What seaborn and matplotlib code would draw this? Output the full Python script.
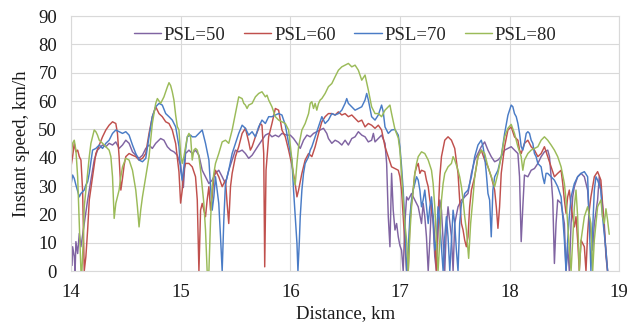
import matplotlib
matplotlib.use("Agg")
import matplotlib.pyplot as plt
import pandas as pd
import seaborn as sns

# (distance km, instant speed km/h)
psl50 = [(14.000, 7.4), (14.010, 2.0), (14.015, 8.6), (14.030, 5.1), (14.038, 0.0), (14.045, 10.4), (14.061, 6.2),
         (14.076, 13.3), (14.091, 8.6), (14.121, 16.8), (14.152, 25.1), (14.182, 32.1), (14.212, 39.2), (14.242, 42.7),
         (14.288, 44.5), (14.318, 43.9), (14.348, 45.1), (14.379, 44.5), (14.409, 45.6), (14.439, 43.3), (14.470, 44.5),
         (14.500, 46.2), (14.530, 45.1), (14.561, 42.1), (14.591, 40.9), (14.621, 39.8), (14.652, 40.9), (14.682, 43.3),
         (14.712, 44.5), (14.742, 43.3), (14.773, 45.1), (14.818, 46.8), (14.848, 46.2), (14.879, 43.9), (14.909, 42.7),
         (14.939, 42.1), (14.970, 40.9), (15.000, 37.4), (15.025, 29.5), (15.045, 41.5), (15.076, 42.7), (15.106, 41.5),
         (15.136, 42.7), (15.167, 40.9), (15.197, 35.6), (15.227, 33.3), (15.258, 30.9), (15.288, 32.1), (15.318, 34.5),
         (15.348, 35.6), (15.379, 33.3), (15.409, 30.9), (15.439, 35.6), (15.470, 39.2), (15.500, 42.7), (15.530, 42.1),
         (15.561, 42.7), (15.591, 41.5), (15.621, 39.8), (15.652, 40.9), (15.682, 42.7), (15.712, 44.5), (15.742, 46.2),
         (15.773, 48.0), (15.803, 48.6), (15.833, 47.4), (15.864, 48.0), (15.894, 47.4), (15.924, 48.6), (15.970, 48.0),
         (16.000, 48.0), (16.030, 46.8), (16.061, 45.1), (16.091, 43.3), (16.121, 46.2), (16.152, 48.0), (16.182, 47.4),
         (16.212, 48.6), (16.242, 49.2), (16.273, 49.8), (16.303, 50.4), (16.333, 48.6), (16.348, 46.8), (16.379, 45.1),
         (16.409, 46.2), (16.439, 45.6), (16.470, 44.5), (16.500, 46.2), (16.530, 44.5), (16.561, 46.8), (16.591, 47.4),
         (16.621, 49.2), (16.652, 48.0), (16.682, 47.4), (16.712, 45.6), (16.742, 46.2), (16.758, 48.6), (16.773, 45.6),
         (16.803, 46.8), (16.833, 48.0), (16.864, 45.1), (16.879, 38.0), (16.894, 19.2), (16.909, 8.6), (16.924, 34.5),
         (16.939, 21.5), (16.955, 14.5), (16.970, 16.8), (16.985, 12.1), (17.000, 9.0), (17.015, 7.4), (17.030, 0.0),
         (17.045, 16.8), (17.061, 26.2), (17.076, 25.1), (17.106, 27.4), (17.136, 25.1), (17.167, 22.7), (17.197, 16.8),
         (17.212, 23.9), (17.227, 19.2), (17.242, 12.1), (17.258, 0.0), (17.273, 10.9), (17.288, 23.9), (17.303, 16.8),
         (17.318, 5.1), (17.333, 0.0), (17.348, 14.5), (17.364, 25.1), (17.379, 21.5), (17.394, 10.9), (17.409, 0.0),
         (17.424, 15.6), (17.439, 22.7), (17.470, 12.1), (17.485, 0.0), (17.500, 16.8), (17.530, 22.7), (17.561, 25.1),
         (17.591, 26.2), (17.621, 27.4), (17.652, 34.5), (17.682, 39.2), (17.712, 41.5), (17.742, 43.9), (17.773, 45.6),
         (17.803, 42.7), (17.833, 40.4), (17.864, 38.6), (17.894, 39.2), (17.924, 40.4), (17.955, 42.7), (17.985, 43.3),
         (18.015, 43.9), (18.045, 42.7), (18.076, 41.5), (18.091, 33.3), (18.106, 10.4), (18.121, 22.7), (18.136, 33.9),
         (18.167, 33.3), (18.197, 35.6), (18.227, 36.2), (18.258, 38.0), (18.288, 40.4), (18.318, 42.1), (18.348, 42.7),
         (18.364, 40.4), (18.379, 33.3), (18.394, 25.1), (18.409, 2.7), (18.424, 16.8), (18.439, 25.1), (18.470, 23.9),
         (18.500, 16.8), (18.515, 0.0), (18.530, 8.6), (18.545, 0.0), (18.561, 16.8), (18.576, 26.2), (18.591, 29.8),
         (18.621, 33.3), (18.652, 34.5), (18.682, 33.3), (18.712, 28.6), (18.727, 19.2), (18.742, 13.3), (18.758, 7.4),
         (18.773, 16.8), (18.803, 25.1), (18.818, 33.3), (18.833, 28.6), (18.864, 16.8), (18.879, 5.1), (18.894, 0.0)]

psl60 = [(14.000, 36.8), (14.015, 40.4), (14.030, 45.1), (14.045, 42.1), (14.061, 42.7), (14.076, 40.4), (14.091, 39.2),
         (14.106, 28.6), (14.121, 0.0), (14.136, 5.1), (14.152, 14.5), (14.167, 25.1), (14.197, 33.3), (14.227, 41.5),
         (14.258, 44.5), (14.288, 47.4), (14.318, 49.8), (14.348, 51.5), (14.379, 52.7), (14.409, 52.1), (14.424, 48.6),
         (14.439, 40.4), (14.455, 28.6), (14.470, 32.7), (14.485, 37.4), (14.500, 40.4), (14.530, 41.5), (14.561, 40.9),
         (14.591, 40.4), (14.621, 39.2), (14.652, 39.8), (14.682, 41.5), (14.712, 48.6), (14.742, 54.5), (14.773, 58.0),
         (14.803, 55.6), (14.833, 54.5), (14.864, 52.7), (14.894, 52.1), (14.924, 49.8), (14.955, 45.0), (14.985, 35.0),
         (15.000, 24.0), (15.015, 28.6), (15.030, 35.6), (15.045, 38.0), (15.076, 38.0), (15.106, 36.8), (15.136, 33.3),
         (15.152, 25.1), (15.167, 0.0), (15.182, 21.5), (15.197, 23.9), (15.212, 21.5), (15.227, 19.2), (15.242, 25.1),
         (15.258, 29.8), (15.273, 21.5), (15.288, 26.2), (15.303, 33.3), (15.318, 35.6), (15.348, 33.3), (15.379, 29.8),
         (15.409, 32.1), (15.424, 23.9), (15.439, 16.8), (15.455, 29.8), (15.470, 34.5), (15.500, 40.4), (15.530, 43.9),
         (15.561, 48.6), (15.591, 50.4), (15.621, 45.6), (15.636, 42.7), (15.652, 43.9), (15.682, 47.4), (15.712, 50.4),
         (15.727, 52.1), (15.742, 51.5), (15.758, 41.5), (15.767, 1.5), (15.779, 35.6), (15.803, 47.4), (15.833, 52.1),
         (15.864, 57.4), (15.894, 56.8), (15.909, 53.3), (15.924, 49.8), (15.955, 47.4), (15.985, 42.7), (16.015, 37.4),
         (16.045, 30.9), (16.061, 26.2), (16.076, 28.6), (16.106, 34.5), (16.136, 39.2), (16.167, 41.5), (16.197, 40.4),
         (16.227, 43.9), (16.258, 48.6), (16.288, 52.7), (16.318, 54.5), (16.348, 55.6), (16.379, 55.6), (16.409, 55.1),
         (16.439, 56.2), (16.470, 55.1), (16.500, 55.6), (16.530, 54.5), (16.561, 55.1), (16.591, 53.9), (16.621, 52.7),
         (16.652, 53.3), (16.682, 50.9), (16.712, 52.1), (16.742, 51.5), (16.773, 50.4), (16.803, 51.5), (16.833, 49.8),
         (16.864, 43.9), (16.894, 40.4), (16.924, 36.8), (16.955, 36.2), (16.985, 35.6), (17.000, 33.3), (17.015, 28.6),
         (17.030, 19.2), (17.045, 9.8), (17.061, 0.0), (17.076, 0.0), (17.091, 16.8), (17.106, 23.9), (17.121, 28.6),
         (17.136, 34.5), (17.152, 36.8), (17.167, 38.0), (17.182, 34.5), (17.197, 35.6), (17.227, 35.1), (17.242, 32.1),
         (17.258, 29.8), (17.273, 25.1), (17.288, 21.5), (17.303, 19.2), (17.318, 10.9), (17.333, 0.0), (17.348, 19.2),
         (17.364, 33.3), (17.379, 40.4), (17.409, 46.2), (17.439, 47.4), (17.470, 46.2), (17.500, 43.3), (17.530, 34.5),
         (17.545, 25.1), (17.561, 16.8), (17.576, 14.5), (17.591, 10.9), (17.606, 8.6), (17.621, 12.1), (17.636, 22.7),
         (17.652, 28.6), (17.682, 33.3), (17.712, 40.4), (17.742, 42.7), (17.773, 39.2), (17.803, 36.8), (17.833, 33.3),
         (17.864, 28.6), (17.879, 22.7), (17.894, 15.1), (17.909, 22.7), (17.924, 34.5), (17.955, 44.0), (17.985, 49.8),
         (18.015, 50.9), (18.045, 47.4), (18.076, 46.2), (18.091, 42.7), (18.106, 41.5), (18.136, 45.1), (18.167, 46.2),
         (18.197, 43.9), (18.227, 42.7), (18.258, 40.4), (18.288, 41.5), (18.318, 43.9), (18.348, 40.4), (18.379, 36.8),
         (18.409, 33.3), (18.439, 34.5), (18.470, 35.6), (18.485, 30.9), (18.500, 25.1), (18.515, 20.4), (18.530, 26.2),
         (18.545, 28.6), (18.561, 22.7), (18.591, 15.6), (18.606, 19.2), (18.621, 10.9), (18.636, 0.0), (18.652, 10.9),
         (18.682, 8.6), (18.697, 0.0), (18.712, 13.3), (18.727, 21.5), (18.742, 26.2), (18.773, 33.3), (18.803, 35.1),
         (18.833, 32.1), (18.848, 23.9), (18.864, 14.5), (18.879, 7.4), (18.894, 0.0)]

psl70 = [(14.000, 30.4), (14.015, 33.9), (14.030, 32.7), (14.045, 30.4), (14.076, 26.2), (14.091, 27.4), (14.106, 28.0),
         (14.121, 28.6), (14.136, 30.4), (14.152, 31.5), (14.167, 34.5), (14.197, 42.7), (14.227, 43.3), (14.258, 44.5),
         (14.288, 43.3), (14.318, 45.1), (14.348, 46.2), (14.379, 48.6), (14.409, 49.8), (14.439, 49.2), (14.470, 48.6),
         (14.500, 49.2), (14.530, 48.0), (14.561, 44.5), (14.591, 41.5), (14.621, 39.2), (14.652, 38.6), (14.682, 39.8),
         (14.712, 47.4), (14.742, 54.5), (14.773, 58.0), (14.803, 59.2), (14.833, 58.6), (14.864, 55.6), (14.894, 54.5),
         (14.924, 53.3), (14.955, 50.9), (14.985, 44.0), (15.000, 35.6), (15.015, 32.1), (15.030, 36.8), (15.045, 42.7),
         (15.061, 47.4), (15.091, 48.0), (15.106, 47.4), (15.136, 47.4), (15.167, 48.6), (15.197, 49.8), (15.212, 47.4),
         (15.227, 45.1), (15.258, 39.2), (15.273, 29.8), (15.288, 21.5), (15.303, 26.2), (15.318, 33.3), (15.333, 28.6),
         (15.348, 23.9), (15.364, 12.1), (15.379, 0.0), (15.394, 18.0), (15.409, 30.9), (15.439, 35.6), (15.470, 41.5),
         (15.500, 45.1), (15.530, 48.6), (15.561, 51.5), (15.591, 50.4), (15.621, 48.0), (15.652, 49.2), (15.682, 47.4),
         (15.712, 50.9), (15.742, 53.3), (15.773, 52.1), (15.803, 54.5), (15.833, 54.5), (15.864, 55.1), (15.894, 55.6),
         (15.924, 55.1), (15.955, 51.5), (15.985, 45.1), (16.015, 39.2), (16.030, 28.6), (16.045, 19.2), (16.061, 9.8),
         (16.070, 0.0), (16.082, 9.8), (16.091, 19.2), (16.106, 28.6), (16.121, 34.5), (16.136, 38.0), (16.167, 40.4),
         (16.182, 42.7), (16.197, 43.9), (16.227, 47.4), (16.258, 50.9), (16.288, 54.5), (16.318, 52.1), (16.348, 53.3),
         (16.379, 55.6), (16.409, 55.1), (16.439, 55.6), (16.470, 56.8), (16.500, 59.2), (16.515, 60.9), (16.530, 59.2),
         (16.561, 58.0), (16.591, 56.8), (16.621, 57.4), (16.652, 58.0), (16.682, 60.4), (16.697, 62.7), (16.712, 60.4),
         (16.742, 54.5), (16.773, 53.3), (16.803, 55.1), (16.833, 58.6), (16.848, 56.2), (16.864, 50.9), (16.894, 48.6),
         (16.924, 49.8), (16.955, 50.0), (16.985, 48.0), (17.000, 43.9), (17.015, 36.8), (17.030, 28.6), (17.045, 16.8),
         (17.061, 0.0), (17.076, 7.4), (17.091, 19.2), (17.106, 25.1), (17.121, 28.6), (17.136, 30.9), (17.152, 33.3),
         (17.167, 32.1), (17.182, 28.6), (17.197, 22.7), (17.212, 25.1), (17.227, 28.6), (17.242, 22.7), (17.258, 16.8),
         (17.273, 22.7), (17.288, 26.2), (17.303, 19.2), (17.318, 7.4), (17.333, 10.9), (17.348, 22.7), (17.364, 16.8),
         (17.379, 8.6), (17.394, 0.0), (17.409, 12.1), (17.424, 19.2), (17.439, 12.1), (17.455, 0.0), (17.470, 10.9),
         (17.485, 21.5), (17.500, 16.8), (17.515, 7.4), (17.530, 0.0), (17.545, 16.8), (17.561, 23.9), (17.576, 25.1),
         (17.591, 27.4), (17.621, 28.6), (17.652, 33.3), (17.682, 40.4), (17.712, 44.5), (17.742, 46.2), (17.758, 43.9),
         (17.773, 40.4), (17.788, 34.5), (17.803, 27.4), (17.818, 25.1), (17.833, 12.1), (17.848, 28.6), (17.864, 33.3),
         (17.894, 35.6), (17.924, 40.4), (17.955, 48.6), (17.985, 55.0), (18.015, 58.6), (18.030, 58.0), (18.045, 55.6),
         (18.061, 54.5), (18.076, 52.1), (18.091, 48.6), (18.106, 43.9), (18.121, 42.7), (18.136, 45.1), (18.152, 48.6),
         (18.167, 49.2), (18.182, 48.6), (18.197, 46.2), (18.212, 45.1), (18.227, 41.5), (18.242, 40.4), (18.258, 38.0),
         (18.288, 36.8), (18.303, 33.3), (18.318, 30.9), (18.333, 34.5), (18.348, 34.5), (18.379, 33.3), (18.409, 32.1),
         (18.439, 29.8), (18.470, 26.2), (18.485, 19.2), (18.500, 10.9), (18.515, 0.0), (18.530, 10.9), (18.545, 19.2),
         (18.561, 26.2), (18.591, 30.9), (18.621, 33.3), (18.652, 34.5), (18.682, 35.1), (18.712, 33.3), (18.727, 16.8),
         (18.742, 0.0), (18.758, 14.5), (18.773, 28.6), (18.788, 33.3), (18.803, 32.1), (18.833, 28.6), (18.848, 19.2),
         (18.864, 13.3), (18.879, 7.4), (18.894, 0.0)]

psl80 = [(14.000, 40.4), (14.015, 45.1), (14.030, 46.2), (14.045, 42.7), (14.061, 33.3), (14.076, 16.8), (14.091, 0.0),
         (14.100, 0.0), (14.112, 10.9), (14.121, 22.7), (14.136, 28.6), (14.152, 34.5), (14.167, 40.4), (14.182, 45.1),
         (14.197, 47.4), (14.212, 49.8), (14.227, 49.2), (14.242, 48.0), (14.258, 46.2), (14.288, 45.1), (14.318, 43.9),
         (14.348, 42.7), (14.364, 40.4), (14.379, 33.3), (14.394, 18.6), (14.409, 23.9), (14.439, 28.6), (14.455, 33.3),
         (14.470, 36.8), (14.500, 39.8), (14.530, 39.2), (14.561, 35.6), (14.591, 28.6), (14.606, 22.7), (14.621, 15.6),
         (14.636, 21.5), (14.652, 26.2), (14.682, 33.3), (14.712, 40.4), (14.742, 52.1), (14.773, 59.2), (14.788, 60.9),
         (14.818, 59.2), (14.848, 61.5), (14.879, 65.0), (14.894, 66.5), (14.909, 65.5), (14.924, 63.3), (14.939, 60.4),
         (14.955, 55.0), (14.970, 51.0), (14.985, 49.8), (15.000, 41.5), (15.015, 38.0), (15.030, 40.4), (15.045, 43.9),
         (15.061, 47.4), (15.076, 48.6), (15.091, 47.4), (15.106, 39.2), (15.121, 42.7), (15.136, 43.3), (15.152, 42.7),
         (15.167, 40.4), (15.182, 35.6), (15.197, 29.8), (15.212, 23.9), (15.227, 14.5), (15.242, 0.0), (15.258, 0.0),
         (15.273, 18.0), (15.288, 29.8), (15.303, 34.5), (15.318, 38.0), (15.348, 41.5), (15.379, 45.6), (15.409, 46.2),
         (15.439, 45.1), (15.470, 49.8), (15.500, 55.6), (15.530, 61.5), (15.561, 60.9), (15.576, 59.2), (15.591, 58.6),
         (15.606, 57.4), (15.621, 58.6), (15.652, 59.2), (15.682, 61.5), (15.712, 62.7), (15.742, 63.3), (15.773, 61.5),
         (15.788, 62.1), (15.803, 60.4), (15.833, 58.0), (15.864, 54.5), (15.894, 53.3), (15.924, 52.7), (15.955, 52.1),
         (15.985, 49.8), (16.015, 39.2), (16.030, 33.3), (16.045, 30.4), (16.061, 38.0), (16.076, 43.9), (16.106, 49.8),
         (16.136, 52.1), (16.167, 55.6), (16.182, 59.2), (16.197, 59.8), (16.212, 57.4), (16.227, 59.2), (16.242, 56.8),
         (16.258, 59.2), (16.273, 60.4), (16.288, 60.9), (16.318, 62.7), (16.348, 65.1), (16.379, 66.2), (16.409, 68.6),
         (16.439, 70.9), (16.470, 72.1), (16.500, 72.7), (16.530, 73.3), (16.561, 72.1), (16.591, 72.7), (16.621, 70.9),
         (16.652, 67.4), (16.682, 69.2), (16.712, 63.9), (16.742, 58.0), (16.773, 55.6), (16.803, 55.6), (16.833, 54.5),
         (16.864, 56.8), (16.894, 58.0), (16.909, 58.6), (16.924, 55.6), (16.955, 50.0), (16.985, 47.0), (17.000, 42.7),
         (17.015, 34.5), (17.030, 25.1), (17.045, 16.8), (17.061, 10.9), (17.076, 0.0), (17.091, 13.3), (17.106, 22.7),
         (17.121, 28.6), (17.136, 34.5), (17.152, 38.0), (17.167, 40.4), (17.197, 42.1), (17.227, 41.5), (17.258, 39.2),
         (17.288, 35.6), (17.303, 30.9), (17.318, 22.7), (17.333, 10.9), (17.348, 0.0), (17.364, 10.9), (17.379, 25.1),
         (17.394, 30.9), (17.409, 34.5), (17.439, 36.8), (17.470, 38.0), (17.485, 40.4), (17.500, 39.2), (17.530, 35.6),
         (17.545, 33.3), (17.561, 29.8), (17.576, 25.1), (17.591, 19.2), (17.606, 14.5), (17.627, 4.5), (17.645, 16.8),
         (17.667, 26.2), (17.682, 33.3), (17.712, 40.4), (17.742, 42.7), (17.773, 41.5), (17.803, 36.8), (17.833, 33.3),
         (17.864, 29.8), (17.894, 34.5), (17.924, 40.4), (17.955, 47.4), (17.985, 50.4), (18.015, 51.8), (18.045, 48.6),
         (18.076, 43.9), (18.106, 40.4), (18.121, 35.6), (18.136, 39.2), (18.167, 41.5), (18.197, 42.7), (18.227, 43.3),
         (18.258, 43.9), (18.288, 46.2), (18.318, 47.4), (18.348, 46.2), (18.379, 44.5), (18.409, 42.7), (18.439, 40.4),
         (18.470, 36.8), (18.500, 30.9), (18.515, 25.1), (18.530, 16.8), (18.545, 7.4), (18.561, 0.0), (18.576, 10.9),
         (18.591, 22.7), (18.606, 28.6), (18.621, 19.2), (18.636, 0.0), (18.652, 10.9), (18.682, 19.2), (18.712, 22.7),
         (18.742, 16.8), (18.758, 0.0), (18.773, 10.9), (18.803, 22.7), (18.833, 25.1), (18.848, 19.2), (18.864, 16.8),
         (18.879, 22.0), (18.894, 18.0), (18.909, 13.0)]

labels = ["PSL=50", "PSL=60", "PSL=70", "PSL=80"]
colors = ["#8064A2", "#C0504D", "#4A7CC6", "#9BBB59"]
x_ticks = [14, 15, 16, 17, 18, 19]
y_ticks = [0, 10, 20, 30, 40, 50, 60, 70, 80, 90]

frames = []
for lab, pts in zip(labels, [psl50, psl60, psl70, psl80]):
    d = pd.DataFrame(pts, columns=["Distance", "Speed"])
    d["PSL"] = lab
    frames.append(d)
df = pd.concat(frames, ignore_index=True)

sns.set_style("white")
plt.rcParams["font.family"] = ["Liberation Serif", "DejaVu Serif"]

fig = plt.figure(figsize=(6.28, 3.29), dpi=100)
ax = fig.add_axes([0.113, 0.176, 0.873, 0.775])

sns.lineplot(data=df, x="Distance", y="Speed", hue="PSL", palette=dict(zip(labels, colors)),
             estimator=None, sort=False, linewidth=1.05, ax=ax)

ax.set_xlim(14, 19)
ax.set_ylim(0, 90)
ax.set_xticks(x_ticks)
ax.set_yticks(y_ticks)
ax.grid(True, color="#d9d9d9", linewidth=0.8)
ax.set_axisbelow(True)
for s in ax.spines.values():
    s.set_color("#d9d9d9")
    s.set_linewidth(0.8)
ax.tick_params(length=0, labelsize=13.5, colors="#1a1a1a")
ax.tick_params(axis="y", pad=10)
ax.tick_params(axis="x", pad=9)
ax.set_xlabel("Distance, km", fontsize=13.5, color="#1a1a1a", labelpad=3)
ax.set_ylabel("Instant speed, km/h", fontsize=13.5, color="#1a1a1a", labelpad=6)

handles, labs = ax.get_legend_handles_labels()
ax.legend(handles, labs, loc="upper center", bbox_to_anchor=(0.5, 1.025), ncol=4, frameon=False,
          fontsize=13.5, handlelength=1.45, handletextpad=0.15, columnspacing=1.0)

fig.savefig("out.png", dpi=100)
